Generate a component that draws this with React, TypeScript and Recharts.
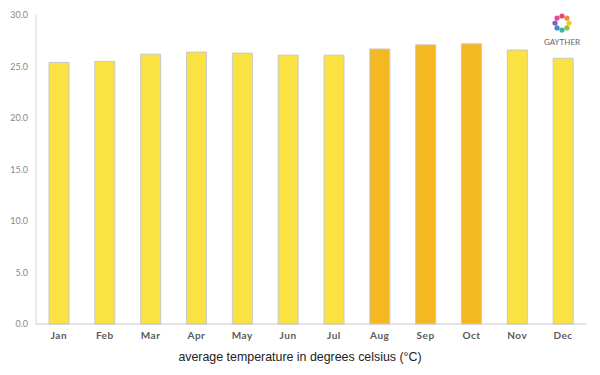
import { BarChart, Bar, XAxis, YAxis, Cell } from 'recharts';

const months = ['Jan', 'Feb', 'Mar', 'Apr', 'May', 'Jun', 'Jul', 'Aug', 'Sep', 'Oct', 'Nov', 'Dec'];
const temps = [25.4, 25.5, 26.2, 26.4, 26.3, 26.1, 26.1, 26.7, 27.1, 27.2, 26.6, 25.8];
const warmMonths = ['Aug', 'Sep', 'Oct'];
const yTicks = [0, 5, 10, 15, 20, 25, 30];

const data = months.map((m, i) => ({ month: m, temp: temps[i] }));

const logoColors = ['#e94b5b', '#f08a3c', '#f5c531', '#8cc63f', '#3bb5a5', '#3a8fd1', '#8a5bc4', '#e0479e'];

function Logo() {
  return (
    <svg width={40} height={40} style={{ position: 'absolute', left: 542, top: 10 }}>
      {logoColors.map((c, i) => {
        const a = (i / logoColors.length) * Math.PI * 2 - Math.PI / 2;
        return <circle key={i} cx={20 + Math.cos(a) * 7} cy={13 + Math.sin(a) * 7} r={2.6} fill={c} />;
      })}
      <text x={20} y={35} textAnchor="middle" fontSize={8} fill="#666" fontFamily="Lato, sans-serif">
        GAYTHER
      </text>
    </svg>
  );
}

export default function App() {
  return (
    <div style={{ position: 'absolute', left: 0, top: 0, width: 600, height: 375, background: '#fff' }}>
      <BarChart width={600} height={375} data={data} margin={{ top: 15, right: 14, left: 0, bottom: 6 }}>
        <XAxis
          dataKey="month"
          height={45}
          tickLine={false}
          axisLine={{ stroke: '#c8c8c8' }}
          tick={{ fill: '#5a5a5a', fontSize: 10, fontWeight: 'bold', fontFamily: 'Lato, sans-serif', letterSpacing: 0.5 }}
          interval={0}
        />
        <YAxis
          width={36}
          domain={[0, 30]}
          ticks={yTicks}
          tickFormatter={(v: number) => v.toFixed(1)}
          tickLine={false}
          axisLine={{ stroke: '#d8d8d8' }}
          tick={{ fill: '#888', fontSize: 9, fontFamily: 'Lato, sans-serif' }}
        />
        <Bar dataKey="temp" barSize={20} stroke="#c8c8c8" strokeWidth={1} isAnimationActive={false}>
          {data.map((d) => (
            <Cell key={d.month} fill={warmMonths.includes(d.month) ? '#f4b821' : '#f9e241'} />
          ))}
        </Bar>
      </BarChart>
      <Logo />
      <div
        style={{
          position: 'absolute',
          left: 0,
          width: 600,
          top: 350,
          textAlign: 'center',
          fontFamily: 'Liberation Sans, Arial, sans-serif',
          fontSize: 12.4,
          color: '#222',
        }}
      >
        average temperature in degrees celsius (°C)
      </div>
    </div>
  );
}
